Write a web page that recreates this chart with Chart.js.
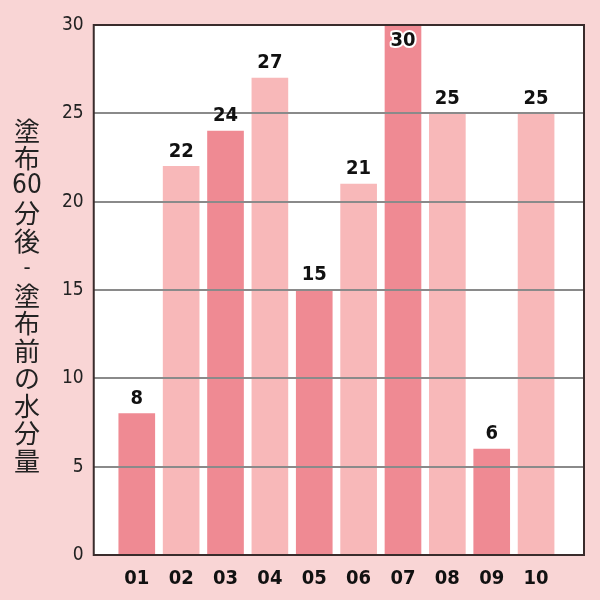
<!DOCTYPE html><html><head><meta charset="utf-8">
<script src="https://cdn.jsdelivr.net/npm/chart.js@4"></script>
<style>html,body{margin:0;background:#f9d5d5}#w{width:600px;height:600px}</style></head><body><div id="w"><canvas id="c"></canvas></div>
<script>
const categories=['01','02','03','04','05','06','07','08','09','10'];
const values=[8,22,24,27,15,21,30,25,6,25];
const yTicks=[0,5,10,15,20,25,30];
const titleChars=['塗','布','60','分','後','-','塗','布','前','の','水','分','量'];
const dark='#ef8a93',light='#f8b8b9';
const colors=categories.map((c,i)=>i%2===0?dark:light);
const FONT='"DejaVu Sans Condensed","Liberation Sans",Arial,sans-serif';
const pts=values.map((v,i)=>({x:i,y:v}));
const plug={id:'p',
beforeDraw(ch){const {ctx,chartArea:a}=ch;ctx.save();ctx.fillStyle='#fff';ctx.fillRect(a.left,a.top,a.right-a.left,a.bottom-a.top);ctx.restore();},
afterDraw(ch){const {ctx,chartArea:a}=ch;ctx.save();
ctx.strokeStyle='#3a2c2c';ctx.lineWidth=2;ctx.strokeRect(a.left,a.top,a.right-a.left,a.bottom-a.top);
const m=ch.getDatasetMeta(0);ctx.textAlign='center';ctx.font='bold 20px '+FONT;
m.data.forEach((b,i)=>{const v=values[i];if(v>=30){ctx.textBaseline='top';ctx.lineWidth=4;ctx.strokeStyle='#fff';ctx.lineJoin='round';ctx.strokeText(v,b.x,b.y+6);ctx.fillStyle='#111';ctx.fillText(v,b.x,b.y+6);}else{ctx.textBaseline='bottom';ctx.fillStyle='#111';ctx.fillText(v,b.x,b.y-5);}});
ctx.fillStyle='#222';ctx.textBaseline='middle';
titleChars.forEach((t,i)=>{ctx.font=(t==='60'?'26px '+FONT:t==='-'?'22px '+FONT:'26px "Noto Sans CJK JP",sans-serif');ctx.fillText(t,27,131+i*27.5);});
ctx.restore();}};
new Chart(document.getElementById('c'),{type:'bar',data:{datasets:[{data:pts,backgroundColor:colors,barThickness:36}]},
options:{animation:false,responsive:true,maintainAspectRatio:false,devicePixelRatio:1,
layout:{padding:{left:52,right:16,top:25,bottom:5}},
plugins:{legend:{display:false},tooltip:{enabled:false}},
scales:{x:{type:'linear',min:-0.97,max:10.08,offset:false,afterBuildTicks(s){s.ticks=categories.map((c,i)=>({value:i}));},grid:{display:false},border:{display:false},ticks:{color:'#111',font:{family:FONT,size:20,weight:'bold'},padding:4,autoSkip:false,maxRotation:0,callback:(v)=>categories[v]}},
y:{min:0,max:30,afterBuildTicks(s){s.ticks=yTicks.map(v=>({value:v}));},border:{display:false},
grid:{z:1,color:c=>(c.tick.value===0||c.tick.value===30)?'rgba(0,0,0,0)':'#8a8a8a',lineWidth:2,drawTicks:false,tickBorderDash:[2,5]},
ticks:{color:'#222',font:{family:FONT,size:19},padding:10}}}},plugins:[plug]});
</script></body></html>
